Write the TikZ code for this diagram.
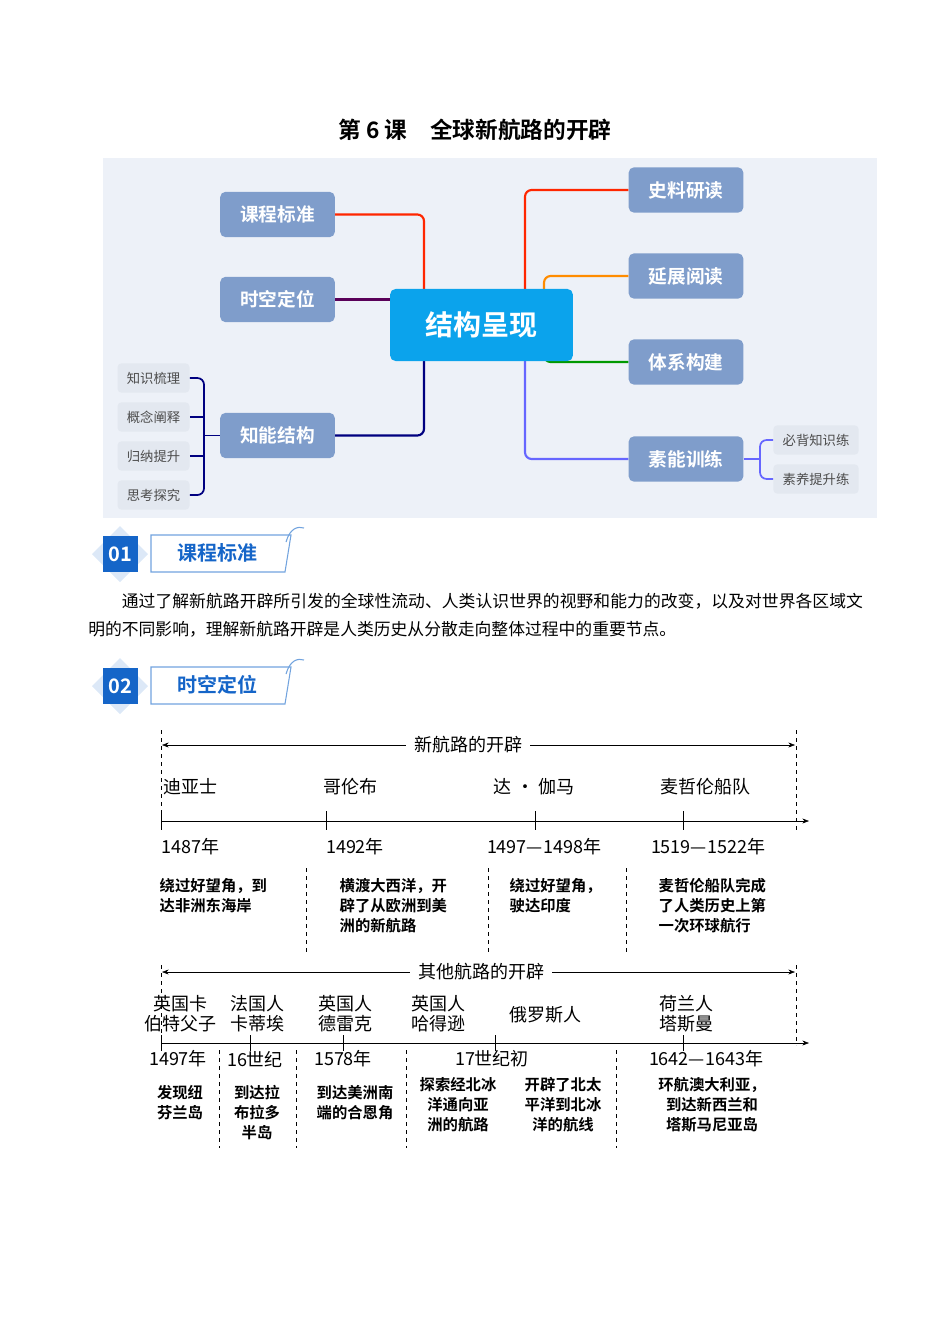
\documentclass[tikz,border=0pt]{standalone}
\usepackage{fontspec}
\setmainfont{Noto Sans CJK SC}
\newfontfamily\cjkb{Noto Sans CJK SC Bold}
\XeTeXlinebreaklocale "zh"
\XeTeXlinebreakskip=0pt plus 1pt
\usetikzlibrary{arrows.meta,calc}
\definecolor{mmbg}{HTML}{EDF1F8}
\definecolor{box}{HTML}{7F9DCB}
\definecolor{ctr}{HTML}{0BA3EC}
\definecolor{sm}{HTML}{E3E8F0}
\definecolor{hblue}{HTML}{1565C8}
\begin{document}
\begin{tikzpicture}[x=0.75pt,y=-0.75pt,
  mbox/.style={fill=box,rounded corners=4pt,minimum width=86pt,minimum height=34pt,text=white,font=\cjkb\fontsize{14}{16}\selectfont},
  sbox/.style={fill=sm,rounded corners=3pt,minimum width=54pt,minimum height=22pt,text=black!70,font=\fontsize{10}{12}\selectfont},
  ln/.style={line width=1.6pt,rounded corners=5pt},
  tl/.style={font=\fontsize{13.5}{16}\selectfont},
  tl2/.style={align=center,font=\fontsize{13.5}{15}\selectfont},
  ds/.style={font=\cjkb\fontsize{11.5}{15}\selectfont,align=center},
  dsh/.style={dashed,thin},
  ax/.style={thin,-{Stealth[length=5pt]}}]
\useasboundingbox (0,0) rectangle (950,1344);
\node (title) at (475,130) {\cjkb\fontsize{17}{20}\selectfont 第 6 课\quad 全球新航路的开辟};
\fill[mmbg] (103,158) rectangle (877,518);
\node[mbox] (k1) at (277.5,214.5) {课程标准};
\node[mbox] (k2) at (277.5,299.5) {时空定位};
\node[mbox] (k3) at (277.5,435.5) {知能结构};
\node[mbox] (r1) at (686,190) {史料研读};
\node[mbox] (r2) at (686,276) {延展阅读};
\node[mbox] (r3) at (686,362) {体系构建};
\node[mbox] (r4) at (686,459) {素能训练};
\node[sbox] (s1) at (153.5,378) {知识梳理};
\node[sbox] (s2) at (153.5,417) {概念阐释};
\node[sbox] (s3) at (153.5,456) {归纳提升};
\node[sbox] (s4) at (153.5,495) {思考探究};
\node[sbox,minimum width=64pt] (t1) at (816,440) {必背知识练};
\node[sbox,minimum width=64pt] (t2) at (816,479) {素养提升练};
\draw[ln,color=red!70!orange] (k1.east) -- (424,214.5) -- (424,295);
\draw[ln,color=violet!70!black] (k2.east) -- (395,299.5);
\draw[ln,color=blue!50!black] (k3.east) -- (424,435.5) -- (424,355);
\draw[ln,color=red!70!orange] (r1.west) -- (525,190) -- (525,295);
\draw[ln,color=orange!90!yellow] (r2.west) -- (544,276) -- (544,295);
\draw[ln,color=green!60!black] (r3.west) -- (544,362) -- (544,355);
\draw[ln,color=blue!60] (r4.west) -- (525,459) -- (525,355);
\node[fill=ctr,rounded corners=4pt,minimum width=137pt,minimum height=54pt,text=white,font=\cjkb\fontsize{21}{24}\selectfont] (c) at (481.5,325) {结构呈现};
\draw[ln,line width=1.3pt,color=blue!50!black] (s1.east) -- (204,378) -- (204,495) -- (s4.east);
\draw[ln,line width=1.3pt,color=blue!50!black] (s2.east) -- (204,417);
\draw[ln,line width=1.3pt,color=blue!50!black] (s3.east) -- (204,456);
\draw[line width=1.3pt,color=blue!50!black] (204,435.5) -- (k3.west);
\draw[ln,line width=1.3pt,color=blue!60] (t1.west) -- (760,440) -- (760,479) -- (t2.west);
\draw[line width=1.3pt,color=blue!60] (r4.east) -- (760,459);
\foreach \y/\n/\t/\nm in {554/01/课程标准/h1,686/02/时空定位/h2}{
  \fill[hblue!15] (120,\y-28) -- (148,\y) -- (120,\y+28) -- (92,\y) -- cycle;
  \node[fill=hblue,minimum width=26pt,minimum height=27pt,text=white,font=\cjkb\fontsize{15}{16}\selectfont] (\nm n) at (120.5,\y) {\n};
  \draw[hblue!60,line width=0.8pt] (151,\y-19) -- (291,\y-19) -- (285,\y+18) -- (151,\y+18) -- cycle;
  \draw[hblue!60,line width=0.8pt] (286,\y-12) .. controls (290,\y-26) and (298,\y-28) .. (304,\y-26);
  \node[text=hblue,font=\cjkb\fontsize{15}{16}\selectfont] (\nm t) at (217,\y-1) {\t};
}
\node[text width=581pt,align=justify,font=\fontsize{12.6}{21}\selectfont,anchor=north west,inner sep=0pt] (para) at (88,593) {\hspace*{2em}通过了解新航路开辟所引发的全球性流动、人类认识世界的视野和能力的改变，以及对世界各区域文明的不同影响，理解新航路开辟是人类历史从分散走向整体过程中的重要节点。};
% timeline 1
\draw[dsh] (161,730) -- (161,830);
\draw[dsh] (796,730) -- (796,830);
\node[tl,fill=white,inner xsep=6pt] (l1) at (468,745) {新航路的开辟};
\draw[thin,-{Stealth[length=5pt]}] (l1.west) -- (162,745);
\draw[thin,-{Stealth[length=5pt]}] (l1.east) -- (795,745);
\node[tl,anchor=west] (a1) at (159,787) {迪亚士};
\node[tl] (a2) at (350,787) {哥伦布};
\node[tl] (a3) at (534,787) {达 · 伽马};
\node[tl] (a4) at (705,787) {麦哲伦船队};
\coordinate (e1) at (809,821);
\draw[ax] (161,821) -- (e1);
\foreach \x in {161,326,535,683}{\draw[thin] (\x,811) -- (\x,830);}
\node[tl,anchor=west] (d1) at (157,847) {1487年};
\node[tl] (d2) at (355,847) {1492年};
\node[tl] (d3) at (544,847) {1497—1498年};
\node[tl] (d4) at (708,847) {1519—1522年};
\foreach \x in {306,488,626}{\draw[dsh] (\x,868) -- (\x,955);}
\node[ds,align=left,anchor=north west] (x1) at (155,874) {绕过好望角，到\\达非洲东海岸};
\node[ds,align=left,anchor=north west] (x2) at (335,874) {横渡大西洋，开\\辟了从欧洲到美\\洲的新航路};
\node[ds,align=left,anchor=north west] (x3) at (505,874) {绕过好望角，\\驶达印度};
\node[ds,align=left,anchor=north west] (x4) at (654,874) {麦哲伦船队完成\\了人类历史上第\\一次环球航行};
% timeline 2
\draw[dsh] (161,965) -- (161,1045);
\draw[dsh] (796,965) -- (796,1045);
\node[tl,fill=white,inner xsep=6pt] (l2) at (481,972) {其他航路的开辟};
\draw[thin,-{Stealth[length=5pt]}] (l2.west) -- (162,972);
\draw[thin,-{Stealth[length=5pt]}] (l2.east) -- (795,972);
\node[tl2] (b1) at (180,1014) {英国卡\\伯特父子};
\node[tl2] (b2) at (257,1014) {法国人\\卡蒂埃};
\node[tl2] (b3) at (345,1014) {英国人\\德雷克};
\node[tl2] (b4) at (438,1014) {英国人\\哈得逊};
\node[tl] (b5) at (545,1015) {俄罗斯人};
\node[tl2] (b6) at (686,1014) {荷兰人\\塔斯曼};
\coordinate (e2) at (809,1043);
\draw[ax] (161,1043) -- (e2);
\foreach \x in {161,250,343,495,683}{\draw[thin] (\x,1035) -- (\x,1051);}
\node[tl] (f1) at (178,1059) {1497年};
\node[tl] (f2) at (255,1059) {16世纪};
\node[tl] (f3) at (343,1059) {1578年};
\node[tl] (f4) at (492,1059) {17世纪初};
\node[tl] (f5) at (706,1059) {1642—1643年};
\foreach \x in {219,296,406,616}{\draw[dsh] (\x,1050) -- (\x,1148);}
\node[ds,anchor=north] (y1) at (180,1081) {发现纽\\芬兰岛};
\node[ds,anchor=north] (y2) at (257,1081) {到达拉\\布拉多\\半岛};
\node[ds,anchor=north] (y3) at (355,1081) {到达美洲南\\端的合恩角};
\node[ds,anchor=north] (y4) at (458,1073) {探索经北冰\\洋通向亚\\洲的航路};
\node[ds,anchor=north] (y5) at (563,1073) {开辟了北太\\平洋到北冰\\洋的航线};
\node[ds,anchor=north] (y6) at (712,1073) {环航澳大利亚，\\到达新西兰和\\塔斯马尼亚岛};
\end{tikzpicture}
\end{document}
